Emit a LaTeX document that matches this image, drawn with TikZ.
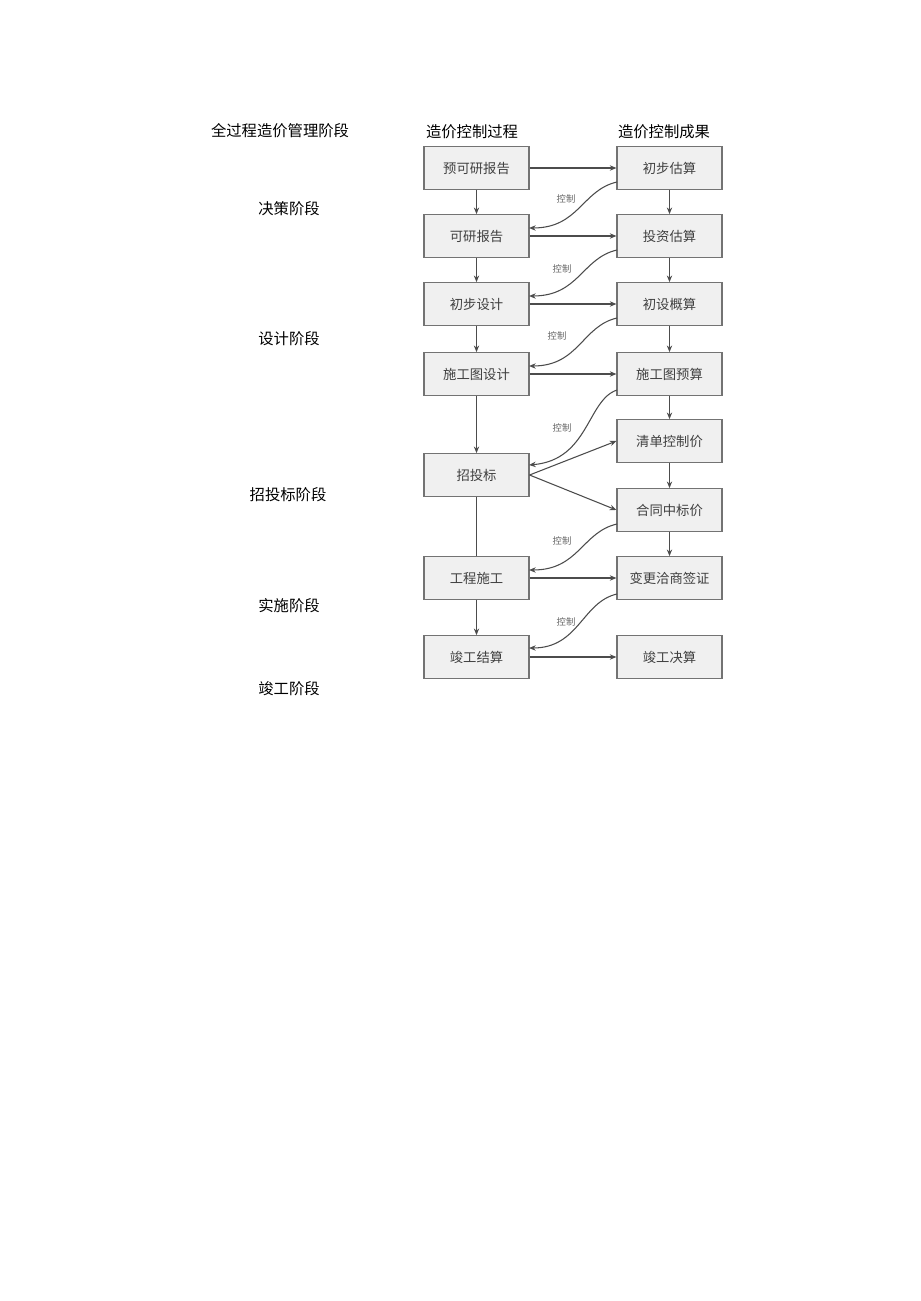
\documentclass[tikz,border=0pt]{standalone}
\usepackage{fontspec}
\newfontfamily\cjk{Noto Sans CJK SC}
\usetikzlibrary{arrows.meta}
\begin{document}
\begin{tikzpicture}[x=0.75pt,y=-0.75pt,
  box/.style={draw=black!55,fill=black!6,line width=0.8pt,minimum width=78.75pt,minimum height=32pt,inner sep=0pt,font=\cjk\fontsize{10}{12}\selectfont,text=black!75},
  lbl/.style={font=\cjk\fontsize{11.5}{13}\selectfont},
  ctl/.style={font=\cjk\fontsize{7}{8}\selectfont,text=black!60},
  arr/.style={draw=black!70,line width=0.8pt,-{Stealth[length=5pt,width=4pt]}}]
\useasboundingbox (0,0) rectangle (920,1301);
\node[lbl] (t0) at (280,131) {全过程造价管理阶段};
\node[lbl] (t1) at (289,209) {决策阶段};
\node[lbl] (t2) at (289,339) {设计阶段};
\node[lbl] (t3) at (288,495) {招投标阶段};
\node[lbl] (t4) at (289,606) {实施阶段};
\node[lbl] (t5) at (289,689) {竣工阶段};
\node[lbl] (h1) at (472,132) {造价控制过程};
\node[lbl] (h2) at (664,132) {造价控制成果};
\node[box] (L1) at (476.5,168) {预可研报告};
\node[box] (L2) at (476.5,236) {可研报告};
\node[box] (L3) at (476.5,304) {初步设计};
\node[box] (L4) at (476.5,374) {施工图设计};
\node[box] (L5) at (476.5,475) {招投标};
\node[box] (L6) at (476.5,578) {工程施工};
\node[box] (L7) at (476.5,657) {竣工结算};
\node[box] (R1) at (669.5,168) {初步估算};
\node[box] (R2) at (669.5,236) {投资估算};
\node[box] (R3) at (669.5,304) {初设概算};
\node[box] (R4) at (669.5,374) {施工图预算};
\node[box] (R5) at (669.5,441) {清单控制价};
\node[box] (R6) at (669.5,510) {合同中标价};
\node[box] (R7) at (669.5,578) {变更洽商签证};
\node[box] (R8) at (669.5,657) {竣工决算};
\foreach \a/\b in {L1/L2,L2/L3,L3/L4,L4/L5,L6/L7,R1/R2,R2/R3,R3/R4,R4/R5,R5/R6,R6/R7}
  \draw[arr] (\a) -- (\b);
\draw[draw=black!70,line width=0.8pt] (L5.south) -- (L6.north);
\foreach \a/\b in {L1/R1,L2/R2,L3/R3,L4/R4,L6/R7,L7/R8}
  \draw[arr] (\a) -- (\b);
\draw[arr] (L5.east) -- (R5.west);
\draw[arr] (L5.east) -- (R6.west);
\coordinate (c1) at (617,182); \coordinate (d1) at (529,228);
\coordinate (c2) at (617,250); \coordinate (d2) at (529,296);
\coordinate (c3) at (617,318); \coordinate (d3) at (529,366);
\coordinate (c4) at (617,390); \coordinate (d4) at (529,465);
\coordinate (c5) at (617,524); \coordinate (d5) at (529,570);
\coordinate (c6) at (617,594); \coordinate (d6) at (529,648);
\foreach \c/\d in {c1/d1,c2/d2,c3/d3,c5/d5,c6/d6}
  \draw[arr] (\c) .. controls +(-35,8) and +(50,0) .. (\d);
\draw[arr] (c4) .. controls +(-30,10) and +(60,-5) .. (d4);
\node[ctl] (k1) at (566,199) {控制};
\node[ctl] (k2) at (562,269) {控制};
\node[ctl] (k3) at (557,336) {控制};
\node[ctl] (k4) at (562,428) {控制};
\node[ctl] (k5) at (562,541) {控制};
\node[ctl] (k6) at (566,622) {控制};
\end{tikzpicture}
\end{document}
